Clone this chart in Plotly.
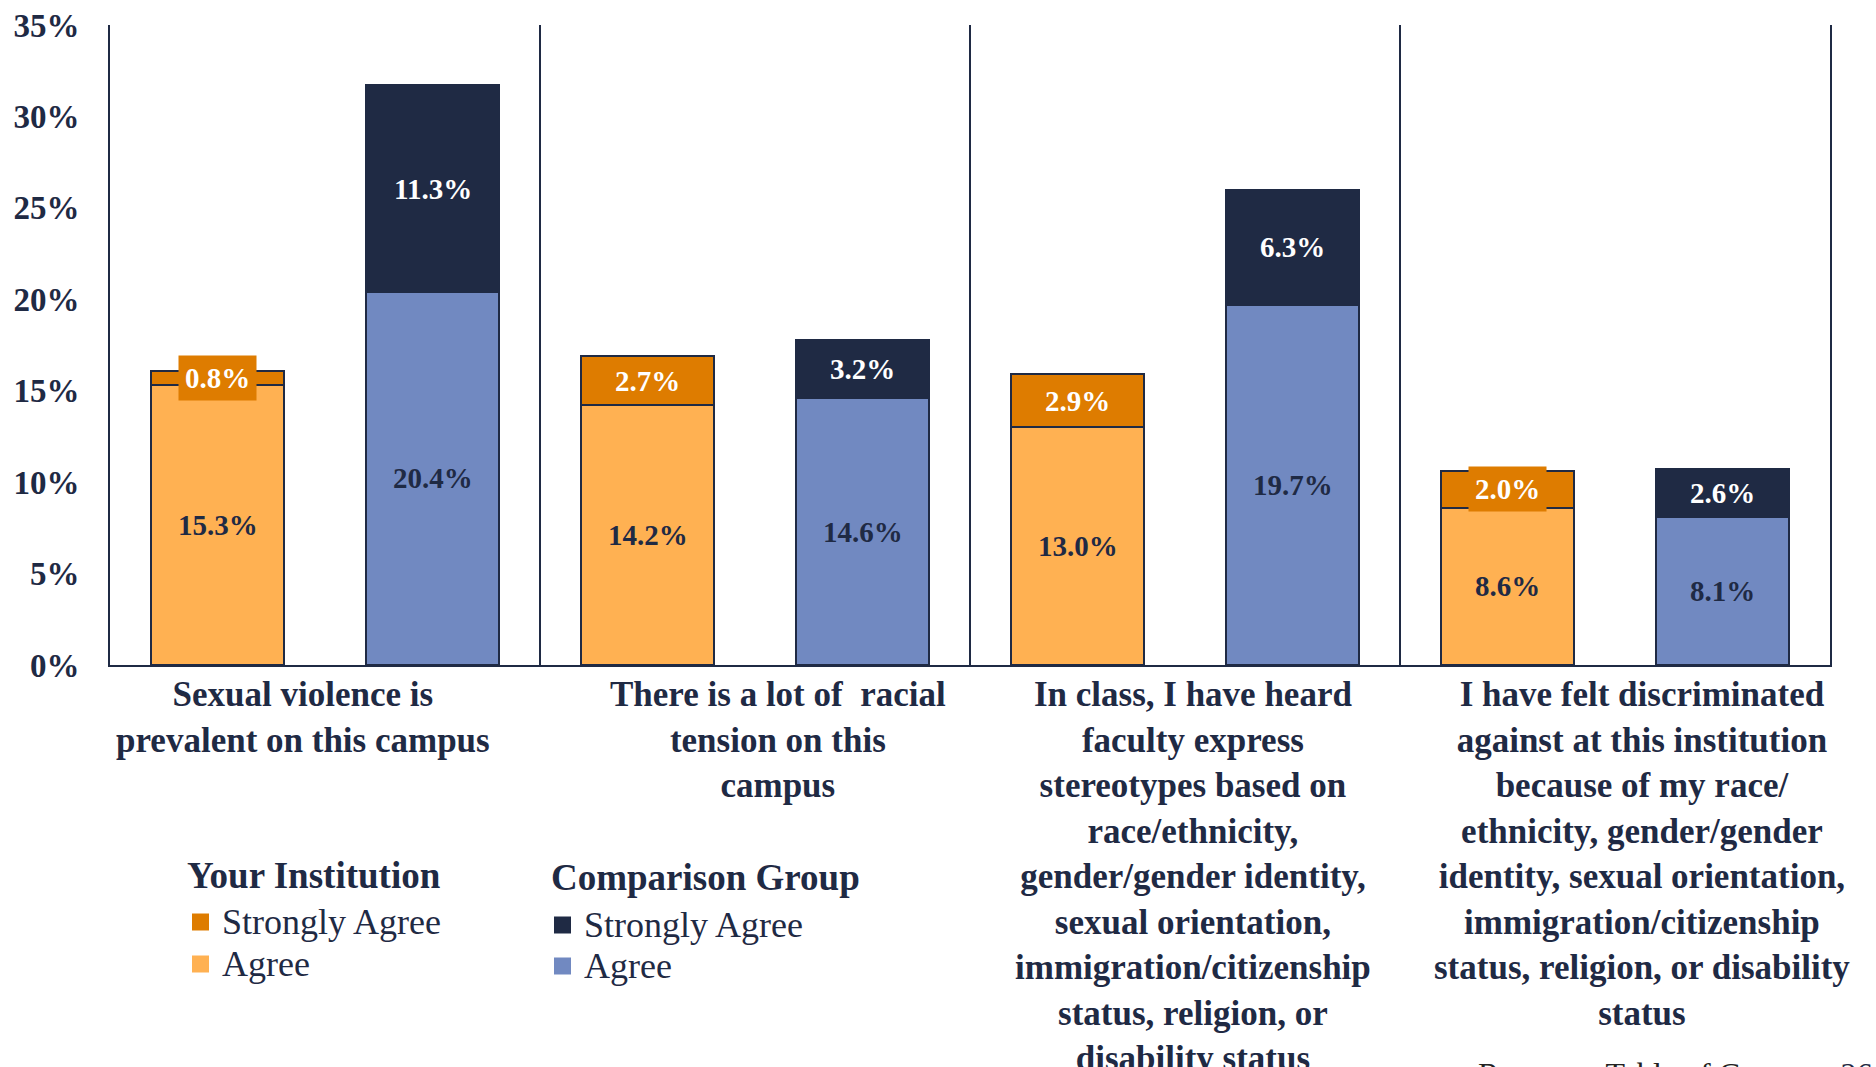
import plotly.graph_objects as go

# Survey statements (one group of two stacked bars each)
statements = [
    "Sexual violence is<br>prevalent on this campus",
    "There is a lot of  racial<br>tension on this<br>campus",
    "In class, I have heard<br>faculty express<br>stereotypes based on<br>race/ethnicity,<br>gender/gender identity,<br>sexual orientation,<br>immigration/citizenship<br>status, religion, or<br>disability status",
    "I have felt discriminated<br>against at this institution<br>because of my race/<br>ethnicity, gender/gender<br>identity, sexual orientation,<br>immigration/citizenship<br>status, religion, or disability<br>status",
]

# Percent of respondents
inst_agree = [15.3, 14.2, 13.0, 8.6]
inst_strong = [0.8, 2.7, 2.9, 2.0]
comp_agree = [20.4, 14.6, 19.7, 8.1]
comp_strong = [11.3, 3.2, 6.3, 2.6]

y_ticks = [0, 5, 10, 15, 20, 25, 30, 35]

legend_groups = ["Your Institution", "Comparison Group"]
legend_items = ["Strongly Agree", "Agree"]

NAVY = "#1F2A44"
INST_AGREE_C = "#FFB152"
INST_STRONG_C = "#DE7C00"
COMP_AGREE_C = "#7189C1"
COMP_STRONG_C = "#1F2A44"
SERIF = "Liberation Serif"

W, H = 1876, 1067
ML, MR, MT, MB = 110, 46, 25, 402
PW, PH = W - ML - MR, H - MT - MB


def px(xp):
    """Horizontal pixel -> paper fraction."""
    return (xp - ML) / PW


def py(yp):
    """Vertical pixel (from top) -> paper fraction."""
    return (H - MB - yp) / PH


inst_x = [2 * i for i in range(len(statements))]
comp_x = [2 * i + 1 for i in range(len(statements))]
group_x = [2 * i + 0.5 for i in range(len(statements))]

fig = go.Figure()

bar_line = dict(color=NAVY, width=2)
for xs, vals, color in [
    (inst_x, inst_agree, INST_AGREE_C),
    (inst_x, inst_strong, INST_STRONG_C),
    (comp_x, comp_agree, COMP_AGREE_C),
    (comp_x, comp_strong, COMP_STRONG_C),
]:
    fig.add_trace(go.Bar(
        x=xs, y=vals, width=0.62,
        marker=dict(color=color, line=bar_line),
        showlegend=False, hoverinfo="skip",
    ))

# Value labels centred in each segment
label_font = dict(family=SERIF, size=29, color=NAVY, weight="bold")
for i in range(len(statements)):
    fig.add_annotation(x=inst_x[i], y=inst_agree[i] / 2, text=f"{inst_agree[i]:.1f}%",
                       showarrow=False, font=label_font)
    fig.add_annotation(x=comp_x[i], y=comp_agree[i] / 2, text=f"{comp_agree[i]:.1f}%",
                       showarrow=False, font=label_font)
    fig.add_annotation(x=inst_x[i], y=inst_agree[i] + inst_strong[i] / 2,
                       text=f"{inst_strong[i]:.1f}%", showarrow=False,
                       font=dict(label_font, color="white"),
                       bgcolor=INST_STRONG_C, borderpad=6)
    fig.add_annotation(x=comp_x[i], y=comp_agree[i] + comp_strong[i] / 2,
                       text=f"{comp_strong[i]:.1f}%", showarrow=False,
                       font=dict(label_font, color="white"))

# Statement labels under each group
label_shift = [-22, 23, 8, 27]
for i, s in enumerate(statements):
    fig.add_annotation(x=group_x[i], y=-0.012, xref="x", yref="paper",
                       yanchor="top", xanchor="center", xshift=label_shift[i],
                       text=f"<b>{s}</b>", showarrow=False, align="center",
                       font=dict(family=SERIF, size=35, color=NAVY))

# Group separators
for xb in [1.5, 3.5, 5.5]:
    fig.add_shape(type="line", x0=xb, x1=xb, y0=0, y1=35, xref="x", yref="y",
                  line=dict(color=NAVY, width=2))

# Two-block legend: heading, then a swatch + label per series
legend_colors = [[INST_STRONG_C, INST_AGREE_C], [COMP_STRONG_C, COMP_AGREE_C]]
legend_left = [185, 549]          # heading left edge
legend_head_y = [875, 877]        # heading centre
legend_item_y = [[922, 964], [925, 966]]
legend_sw_x = [192, 554]          # swatch left edge
SW = 17
for g, title in enumerate(legend_groups):
    fig.add_annotation(x=px(legend_left[g]), y=py(legend_head_y[g]), xref="paper", yref="paper",
                       xanchor="left", yanchor="middle", showarrow=False,
                       text=f"<b>{title}</b>",
                       font=dict(family=SERIF, size=37, color=NAVY))
    for k, item in enumerate(legend_items):
        yc = legend_item_y[g][k]
        fig.add_shape(type="rect", xref="paper", yref="paper",
                      x0=px(legend_sw_x[g]), x1=px(legend_sw_x[g] + SW),
                      y0=py(yc + SW / 2), y1=py(yc - SW / 2),
                      fillcolor=legend_colors[g][k], line=dict(width=0))
        fig.add_annotation(x=px(legend_sw_x[g] + 28), y=py(yc), xref="paper", yref="paper",
                           xanchor="left", yanchor="middle", showarrow=False,
                           text=item, font=dict(family=SERIF, size=36, color=NAVY))

# Footer link text
fig.add_annotation(x=px(1476), y=py(1054), xref="paper", yref="paper",
                   xanchor="left", yanchor="top", showarrow=False,
                   text="Return to Table of Contents <span style='color:#1F2A44'>26</span>",
                   font=dict(family=SERIF, size=32, color="#222222"))

fig.update_layout(
    width=W, height=H,
    margin=dict(l=ML, r=MR, t=MT, b=MB),
    paper_bgcolor="white", plot_bgcolor="white",
    barmode="stack", showlegend=False,
    font=dict(family=SERIF, color=NAVY),
    xaxis=dict(range=[-0.5, 7.5], showticklabels=False, showgrid=False, zeroline=False,
               showline=True, linecolor=NAVY, linewidth=2, ticks="", automargin=False),
    yaxis=dict(range=[0, 35], tickvals=y_ticks, ticktext=[f"{v}%" for v in y_ticks],
               showgrid=False, zeroline=False, showline=True, mirror=True,
               linecolor=NAVY, linewidth=2, ticks="", ticklabelstandoff=22,
               automargin=False,
               tickfont=dict(family=SERIF, size=33, color=NAVY, weight="bold")),
)

fig.write_html("out.html")
